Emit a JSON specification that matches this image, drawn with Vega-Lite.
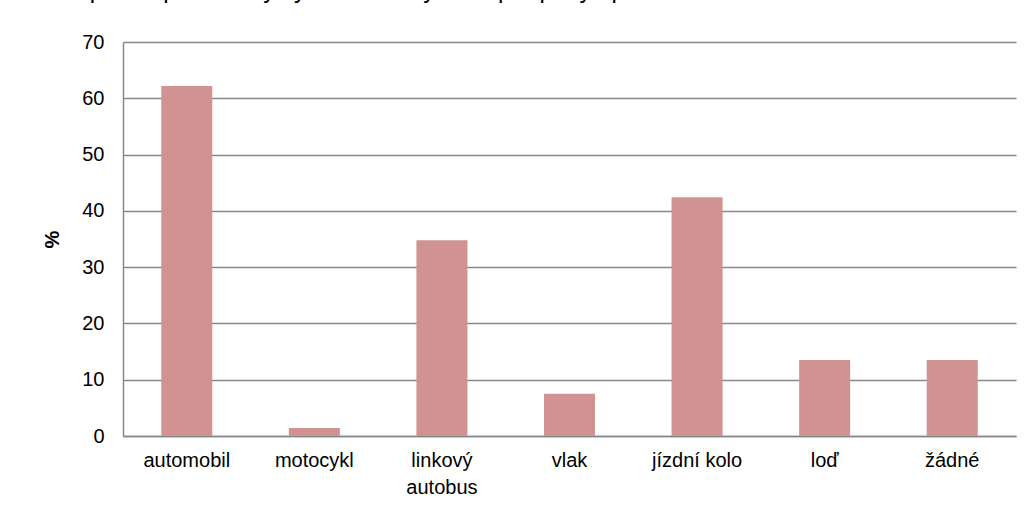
{
  "$schema": "https://vega.github.io/schema/vega-lite/v6.json",
  "width": 893,
  "height": 394,
  "autosize": {"type": "none"},
  "padding": {"left": 123, "top": 42, "right": 16, "bottom": 72},
  "background": "white",
  "title": {
    "text": "Současné dopravní prostředky využívané obyvateli pro pohyb po obci – SS",
    "anchor": "start",
    "dx": -93,
    "offset": 29,
    "font": "Liberation Sans",
    "fontSize": 24,
    "fontWeight": "normal",
    "color": "#000000"
  },
  "data": {
    "values": [
      {"prostredek": "automobil", "procento": 62.2},
      {"prostredek": "motocykl", "procento": 1.4},
      {"prostredek": "linkový autobus", "procento": 34.8},
      {"prostredek": "vlak", "procento": 7.5},
      {"prostredek": "jízdní kolo", "procento": 42.4},
      {"prostredek": "loď", "procento": 13.5},
      {"prostredek": "žádné", "procento": 13.5}
    ]
  },
  "mark": {"type": "bar", "color": "#D19392"},
  "encoding": {
    "x": {
      "field": "prostredek",
      "type": "nominal",
      "sort": null,
      "scale": {"paddingInner": 0.6, "paddingOuter": 0.3},
      "axis": {
        "title": null,
        "labelAngle": 0,
        "labelExpr": "datum.label == 'linkový autobus' ? ['linkový', 'autobus'] : datum.label",
        "labelFont": "Liberation Sans",
        "labelFontSize": 20,
        "labelColor": "#000000",
        "labelPadding": 14,
        "labelLineHeight": 27,
        "ticks": false,
        "domainColor": "#888888",
        "domainWidth": 1.5,
        "grid": false
      }
    },
    "y": {
      "field": "procento",
      "type": "quantitative",
      "scale": {"domain": [0, 70]},
      "axis": {
        "title": "%",
        "titleFont": "Liberation Sans",
        "titleFontSize": 20,
        "titleFontWeight": "bold",
        "titleColor": "#000000",
        "titlePadding": 19,
        "values": [0, 10, 20, 30, 40, 50, 60, 70],
        "labelFont": "Liberation Sans",
        "labelFontSize": 20,
        "labelColor": "#000000",
        "labelPadding": 19,
        "ticks": false,
        "domainColor": "#888888",
        "domainWidth": 1.5,
        "grid": true,
        "gridColor": "#888888",
        "gridWidth": 1.5
      }
    }
  },
  "config": {
    "view": {"stroke": null}
  }
}
